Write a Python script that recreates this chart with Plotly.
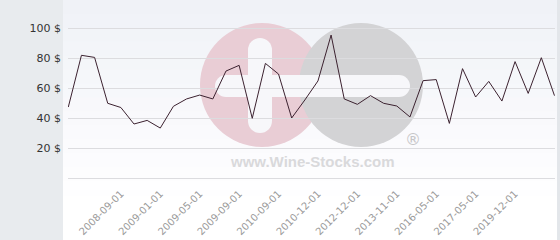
import plotly.graph_objects as go

# ---- data ----
prices = [47.3, 81.8, 80.4, 49.8, 47.0, 36.0, 38.4, 33.3, 47.8, 52.7,
          55.3, 52.7, 71.3, 75.1, 39.8, 76.4, 69.3, 40.0, 52.0, 64.7,
          95.3, 52.7, 49.1, 54.9, 49.8, 48.0, 40.7, 64.9, 65.6, 36.4,
          72.9, 54.0, 64.4, 51.3, 77.6, 56.4, 80.2, 54.9]
tick_labels = ["2008-09-01", "2009-01-01", "2009-05-01", "2009-09-01",
               "2010-09-01", "2010-12-01", "2012-12-01", "2013-11-01",
               "2016-05-01", "2017-05-01", "2019-12-01"]
tick_index = [4, 7, 10, 13, 16, 19, 22, 25, 28, 31, 34]
y_ticks = [0, 20, 40, 60, 80, 100]
y_tick_text = ["", "20 $", "40 $", "60 $", "80 $", "100 $"]

x_idx = list(range(len(prices)))

# ---- layout geometry (pixels) ----
W, H = 560, 240
L, R = 68, 555          # plot area left/right
T, B = 0, 185           # plot area top/bottom
PW, PH = R - L, B - T

def px(x):
    return (x - L) / PW

def py(y):
    return (B - y) / PH

shapes = []
# left grey panel
shapes.append(dict(type="rect", xref="paper", yref="paper", layer="below",
                   x0=px(0), x1=px(63), y0=py(240), y1=py(0),
                   fillcolor="#e8ebee", line_width=0))
# right grey strip
shapes.append(dict(type="rect", xref="paper", yref="paper", layer="below",
                   x0=px(557), x1=px(560), y0=py(240), y1=py(0),
                   fillcolor="#e3e6ea", line_width=0))
# gradient background
n = 14
top_c = (240, 242, 247)
bot_c = (254, 254, 255)
for i in range(n):
    f = i / (n - 1)
    c = tuple(int(round(top_c[k] + (bot_c[k] - top_c[k]) * f)) for k in range(3))
    y0 = 195 * i / n
    y1 = 195 * (i + 1) / n
    shapes.append(dict(type="rect", xref="paper", yref="paper", layer="below",
                       x0=px(63), x1=px(557), y0=py(y1 + 0.5), y1=py(y0),
                       fillcolor="rgb(%d,%d,%d)" % c, line_width=0))

def circ(cx, cy, r, color):
    return dict(type="circle", xref="paper", yref="paper", layer="below",
                x0=px(cx - r), x1=px(cx + r), y0=py(cy + r), y1=py(cy - r),
                fillcolor=color, line_width=0)

def rect(x0, x1, y0, y1, color):
    return dict(type="rect", xref="paper", yref="paper", layer="below",
                x0=px(x0), x1=px(x1), y0=py(y1), y1=py(y0),
                fillcolor=color, line_width=0)

# watermark
pink = "#e9cdd5"
grey = "#d3d3d5"
white = "#f7f7fa"
shapes.append(circ(262, 85, 62, pink))
shapes.append(circ(361, 85, 62, grey))
# vertical bar of cross
shapes.append(rect(248, 272, 50, 121, white))
shapes.append(circ(260, 50, 12, white))
shapes.append(circ(260, 121, 12, white))
# horizontal bar
shapes.append(rect(226, 399, 75, 97, white))
shapes.append(circ(226, 86, 11, white))
shapes.append(circ(399, 86, 11, white))

annotations = [
    dict(xref="paper", yref="paper", x=px(312), y=py(161), text="<b>www.Wine-Stocks.com</b>",
         showarrow=False, font=dict(family="Liberation Sans", size=15, color="#d9d9db"),
         xanchor="center", yanchor="middle"),
    dict(xref="paper", yref="paper", x=px(413), y=py(139), text="®",
         showarrow=False, font=dict(family="DejaVu Sans", size=16, color="#c6c6c8"),
         xanchor="center", yanchor="middle"),
]

fig = go.Figure()
fig.add_trace(go.Scatter(x=x_idx, y=prices, mode="lines",
                         line=dict(color="#3c2230", width=1), hoverinfo="skip"))

step = 13.14
x0p = 68.3
fig.update_layout(
    width=W, height=H,
    margin=dict(l=L, r=W - R, t=T, b=H - B, pad=0),
    paper_bgcolor="white",
    plot_bgcolor="rgba(0,0,0,0)",
    showlegend=False,
    shapes=shapes,
    annotations=annotations,
    xaxis=dict(range=[(L - x0p) / step, (R - x0p) / step],
               tickmode="array", tickvals=tick_index, ticktext=tick_labels,
               tickangle=-45, showgrid=False, zeroline=False, showline=False,
               ticks="", tickfont=dict(family="DejaVu Sans", size=10, color="#9a9a9a")),
    yaxis=dict(range=[-(B - 178) / 1.5, 178 / 1.5],
               tickmode="array", tickvals=y_ticks, ticktext=y_tick_text,
               showgrid=True, gridcolor="#dcdcdf", gridwidth=1,
               zeroline=False, showline=False, ticks="", ticklabelstandoff=6,
               tickfont=dict(family="DejaVu Sans", size=11, color="#333333")),
)
fig.write_html("out.html")
